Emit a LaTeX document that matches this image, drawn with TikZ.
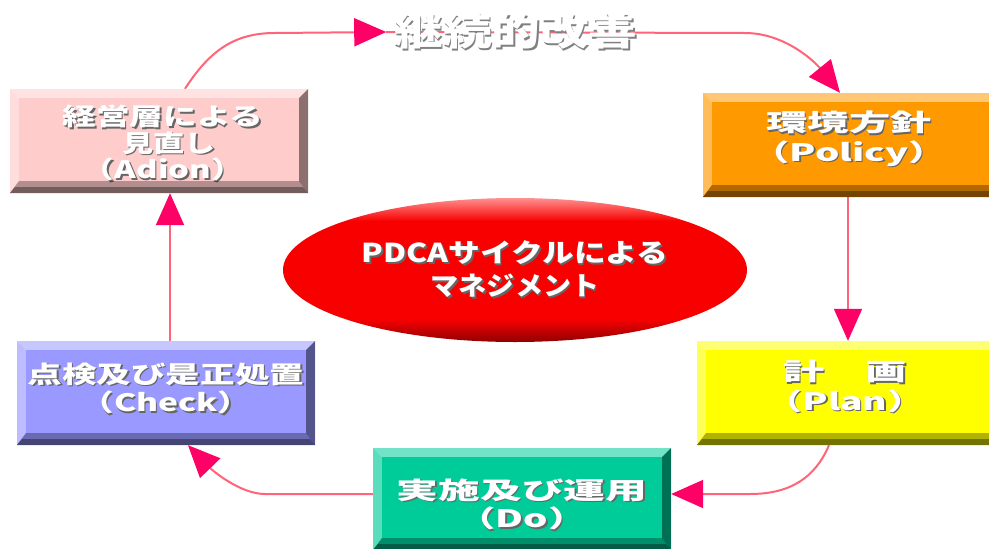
\documentclass[tikz,border=0pt]{standalone}
\usepackage{fontspec}
\setmainfont{Noto Sans CJK JP}
\usetikzlibrary{arrows.meta,shapes.geometric}
\definecolor{linepink}{HTML}{FF6478}
\definecolor{arrowpink}{HTML}{FF0066}
\definecolor{actc}{HTML}{FFCCCC}
\definecolor{polc}{HTML}{FF9900}
\definecolor{planc}{HTML}{FFFF00}
\definecolor{doc}{HTML}{00CC99}
\definecolor{chkc}{HTML}{9999FF}
\definecolor{ellpink}{HTML}{FF9090}
\definecolor{elldark}{HTML}{900000}
\definecolor{ellred}{HTML}{F80000}
\pgfdeclareverticalshading{pdcashade}{100bp}{color(0bp)=(elldark); color(25bp)=(elldark); color(33bp)=(ellred); color(67bp)=(ellred); color(75bp)=(ellpink); color(100bp)=(ellpink)}
\pgfdeclarelayer{bg}
\pgfsetlayers{bg,main}
\newcommand\shtext[2][black!60]{\leavevmode\rlap{\kern1.5pt\raisebox{-1.5pt}{\color{#1}#2}}{\color{white}#2}}
\newcommand\bline[2]{\shtext{\scalebox{#1}[1]{#2}}}
\newcommand\tstack[3]{\raisebox{#1}[\height][\depth]{\kern#2\relax\begin{tabular}{@{}c@{}}#3\end{tabular}}}
\newcommand\bevel[1]{%
  \fill[white,opacity=.45] (#1.north west) -- (#1.north east) -- ([shift={(-9pt,-9pt)}]#1.north east) -- ([shift={(9pt,-9pt)}]#1.north west) -- cycle;
  \fill[white,opacity=.35] (#1.north west) -- ([shift={(9pt,-9pt)}]#1.north west) -- ([shift={(9pt,12pt)}]#1.south west) -- (#1.south west) -- cycle;
  \fill[black,opacity=.3] (#1.south west) -- ([shift={(9pt,12pt)}]#1.south west) -- ([shift={(-9pt,12pt)}]#1.south east) -- (#1.south east) -- cycle;
  \fill[black,opacity=.35] (#1.south west) -- ([shift={(5pt,6pt)}]#1.south west) -- ([shift={(-5pt,6pt)}]#1.south east) -- (#1.south east) -- cycle;
  \fill[black,opacity=.45] (#1.north east) -- ([shift={(-9pt,-9pt)}]#1.north east) -- ([shift={(-9pt,12pt)}]#1.south east) -- (#1.south east) -- cycle;
}
\begin{document}
\begin{tikzpicture}[x=1pt,y=-1pt,
  box/.style={rectangle, inner sep=0pt, minimum width=298pt, minimum height=104pt, align=center, font=\fontsize{24}{26}\selectfont\bfseries},
  conn/.style={draw=linepink, line width=2pt},
  arr/.style={conn, -{Triangle[length=32pt,width=28pt,color=arrowpink]}}]
\useasboundingbox (0,0) rectangle (989,549);

\node[box, fill=actc] (act) at (159,141) {\tstack{-5pt}{8pt}{\bline{1.4}{経営層による}\\[-2pt]\kern12pt\bline{1.3}{見直し}\\[-2pt]\bline{1.37}{（Adion）}}};
\node[box, fill=polc, minimum width=300pt] (pol) at (853,145) {\tstack{5pt}{-8pt}{\bline{1.72}{環境方針}\\[1pt]\bline{1.6}{（Policy）}}};
\node[box, fill=planc, minimum width=306pt] (plan) at (850,393) {\tstack{4pt}{-10pt}{\bline{1.72}{計　画}\\[1pt]\bline{1.55}{（Plan）}}};
\node[box, fill=doc, minimum height=102pt] (do) at (522,499) {\tstack{-8pt}{0pt}{\bline{1.74}{実施及び運用}\\\bline{1.6}{（Do）}}};
\node[box, fill=chkc] (chk) at (166,393) {\tstack{2pt}{0pt}{\bline{1.44}{点検及び是正処置}\\\bline{1.4}{（Check）}}};
\bevel{act}\bevel{pol}\bevel{plan}\bevel{do}\bevel{chk}

\node[ellipse, minimum width=464pt, minimum height=144pt, inner sep=0pt, shade, shading=pdcashade,
  font=\fontsize{26}{33}\selectfont\bfseries, align=center] (pdca) at (515,270)
  {\bline{1.22}{PDCAサイクルによる}\\\bline{1.08}{マネジメント}};

\node[font=\fontsize{38}{40}\selectfont\bfseries, inner sep=8pt] (ttl) at (516,32)
  {\shtext[gray]{\scalebox{1.28}[1]{継続的改善}}};

\begin{pgfonlayer}{bg}
\fill[white] (0,0) rectangle (989,549);
\draw[arr] ([xshift=26pt]act.north) .. controls (210,50) and (235,33) .. (275,33) -- (ttl.west);
\draw[arr] (ttl.west) -- (745,33) .. controls (785,33) and (815,62) .. ([xshift=-13pt]pol.north);
\draw[arr] ([xshift=-5pt]pol.south) -- ([xshift=-5pt]pol.south |- plan.north);
\draw[arr] ([xshift=-21pt]plan.south) .. controls (815,478) and (790,494) .. (750,494) -- ([yshift=5pt]do.east);
\draw[arr] ([yshift=5pt]do.west) -- (265,494) .. controls (240,494) and (212,470) .. ([xshift=22pt]chk.south);
\draw[arr] ([xshift=4pt]chk.north) -- ([xshift=4pt]chk.north |- act.south);
\end{pgfonlayer}
\end{tikzpicture}
\end{document}
